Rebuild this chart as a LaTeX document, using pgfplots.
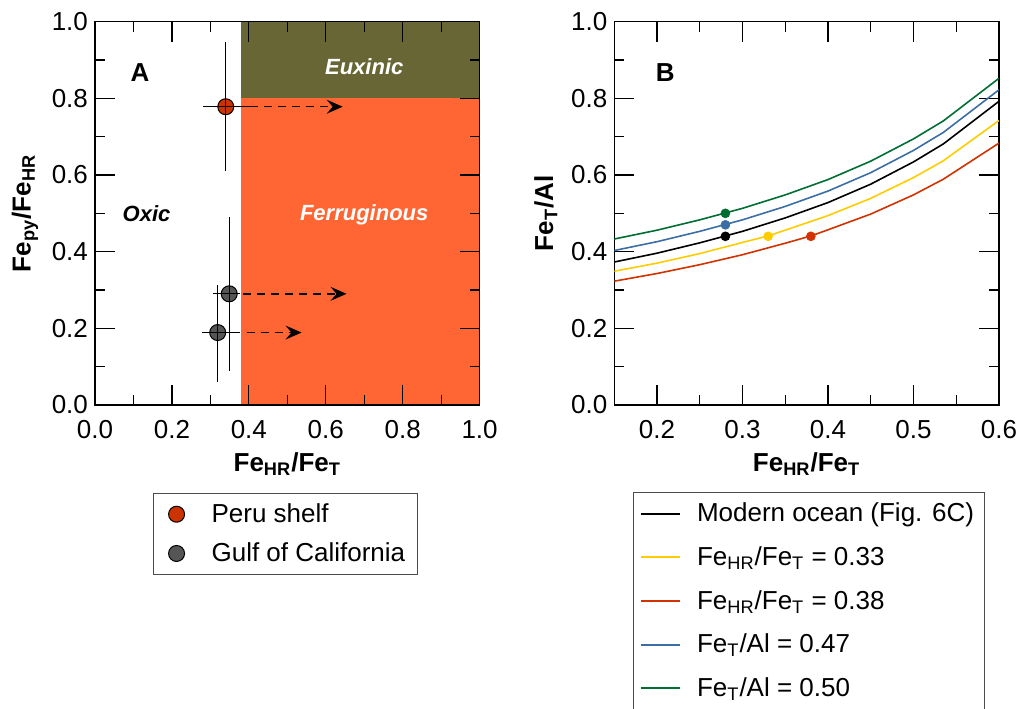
\documentclass[border=0pt]{standalone}
\usepackage{fontspec}
\setmainfont{Liberation Sans}
\usepackage{pgfplots}
\pgfplotsset{compat=1.18}
\usetikzlibrary{arrows.meta}

\definecolor{euxcol}{RGB}{103,102,52}
\definecolor{ferrcol}{RGB}{255,102,51}
\definecolor{perucol}{RGB}{204,51,0}
\definecolor{gulfcol}{RGB}{85,85,85}
\definecolor{cYellow}{RGB}{255,204,0}
\definecolor{cRed}{RGB}{210,50,0}
\definecolor{cBlue}{RGB}{59,110,165}
\definecolor{cGreen}{RGB}{0,110,50}

\pgfplotsset{
  panel/.style={
    scale only axis,
    width=192.3pt, height=191.7pt,
    axis line style={line width=0.6pt},
    tick align=inside, xtick pos=both, ytick pos=both,
    major tick length=10pt, minor tick length=5pt,
    minor tick num=1,
    every tick/.style={black, line width=0.6pt},
    tick label style={font=\fontsize{13}{15}\selectfont},
    /pgf/number format/assume math mode=true,
    xticklabel style={yshift=-4pt, /pgf/number format/.cd, fixed, fixed zerofill, precision=1},
    yticklabel style={/pgf/number format/.cd, fixed, fixed zerofill, precision=1},
    label style={font=\fontsize{13}{15}\selectfont\bfseries},
    legend cell align=left,
  },
  dotlegend/.style={legend image code/.code={%
    \draw[##1] plot coordinates {(7.5pt,0pt)};
    \path[draw=none, fill=none] (0pt,0pt) -- (23pt,0pt);}},
  linelegend/.style={legend image code/.code={%
    \draw[##1, line width=1pt] (0pt,0pt) -- (19.5pt,0pt);
    \path[draw=none, fill=none] (0pt,0pt) -- (26.2pt,0pt);}},
}

\begin{document}
\begin{tikzpicture}
\path[use as bounding box] (0,0) rectangle (510.5pt,-354pt);

% ---------- Panel A
\begin{axis}[panel,
  at={(47.5pt,-202.5pt)}, anchor=south west,
  xmin=0, xmax=1, ymin=0, ymax=1,
  xtick={0,0.2,...,1}, ytick={0,0.2,...,1},
  axis on top, clip marker paths=true,
  xlabel={Fe\textsubscript{HR}/Fe\textsubscript{T}},
  ylabel={Fe\textsubscript{py}/Fe\textsubscript{HR}},
  legend style={at={(0.151,-0.229)}, anchor=north west,
    draw=black!70, line width=0.5pt,
    font=\fontsize{13}{15}\selectfont,
    row sep=4.7pt, inner xsep=4pt, inner ysep=3pt},
]
% redox fields
\addplot[forget plot, draw=none, fill=ferrcol] coordinates {(0.38,0) (0.38,0.8) (1,0.8) (1,0)} -- cycle;
\addplot[forget plot, draw=none, fill=euxcol] coordinates {(0.38,0.8) (0.38,1) (1,1) (1,0.8)} -- cycle;

\addplot[only marks, mark=*, mark size=4pt,
  mark options={draw=black, fill=perucol, line width=0.5pt}, dotlegend]
  coordinates {(0.340,0.778)};
\addlegendentry{Peru shelf}
\addplot[only marks, mark=*, mark size=4pt,
  mark options={draw=black, fill=gulfcol, line width=0.5pt}, dotlegend]
  coordinates {(0.349,0.290) (0.319,0.189)};
\addlegendentry{Gulf of California\hspace{13pt}}

% error bars on top of the symbols
\addplot[forget plot, draw=none, mark=none,
  error bars/.cd, x dir=both, x explicit, y dir=both, y explicit,
  error mark=none, error bar style={draw=black, solid, line width=0.6pt}]
  coordinates {
    (0.340,0.778) += (0.063,0.168) -= (0.060,0.167)
    (0.349,0.290) += (0.028,0.200) -= (0.043,0.200)
    (0.319,0.189) += (0.058,0.124) -= (0.042,0.128)
  };

% dashed arrows
\addplot[forget plot, black, line width=0.7pt, dash pattern=on 4pt off 3pt,
  -{Stealth[length=8pt, width=7pt, inset=3pt]}]
  coordinates {(0.403,0.778) (0.644,0.778)};
\addplot[forget plot, black, line width=0.7pt, dash pattern=on 4pt off 3pt,
  -{Stealth[length=8pt, width=7pt, inset=3pt]}]
  coordinates {(0.386,0.290) (0.654,0.290)};
\addplot[forget plot, black, line width=0.7pt, dash pattern=on 4pt off 3pt,
  -{Stealth[length=8pt, width=7pt, inset=3pt]}]
  coordinates {(0.394,0.189) (0.537,0.189)};

\node[font=\fontsize{13}{15}\selectfont\bfseries] at (axis cs:0.117,0.867) {A};
\node[font=\fontsize{11}{13}\selectfont\bfseries\itshape] at (axis cs:0.134,0.50) {Oxic};
\node[font=\fontsize{11}{13}\selectfont\bfseries\itshape, white] at (axis cs:0.70,0.883) {Euxinic};
\node[font=\fontsize{11}{13}\selectfont\bfseries\itshape, white] at (axis cs:0.70,0.497) {Ferruginous};
\end{axis}

% ---------- Panel B
\begin{axis}[panel,
  at={(307.15pt,-202.5pt)}, anchor=south west,
  xmin=0.15, xmax=0.6, ymin=0, ymax=1,
  xtick={0.2,0.3,0.4,0.5,0.6}, ytick={0,0.2,...,1},
  xlabel={Fe\textsubscript{HR}/Fe\textsubscript{T}},
  ylabel={Fe\textsubscript{T}/Al},
  legend style={at={(0.049,-0.228)}, anchor=north west,
    draw=black!70, line width=0.5pt,
    font=\fontsize{13}{15}\selectfont,
    row sep=6.9pt, inner xsep=3pt, inner ysep=3pt},
]
\addplot[black, line width=0.8pt, linelegend] coordinates {
  (0.15,0.373) (0.20,0.396) (0.25,0.423) (0.28,0.441) (0.30,0.453) (0.35,0.488)
  (0.40,0.528) (0.45,0.576) (0.50,0.634) (0.535,0.681) (0.60,0.792)};
\addlegendentry{Modern ocean (Fig. 6C)}
\addplot[cYellow, line width=0.8pt, linelegend] coordinates {
  (0.15,0.349) (0.20,0.370) (0.25,0.395) (0.30,0.424) (0.33,0.441) (0.35,0.456)
  (0.40,0.494) (0.45,0.539) (0.50,0.593) (0.535,0.637) (0.60,0.742)};
\addlegendentry{Fe\textsubscript{HR}/Fe\textsubscript{T} = 0.33}
\addplot[cRed, line width=0.8pt, linelegend] coordinates {
  (0.15,0.323) (0.20,0.343) (0.25,0.366) (0.30,0.392) (0.35,0.422) (0.38,0.441)
  (0.40,0.457) (0.45,0.498) (0.50,0.548) (0.535,0.589) (0.60,0.683)};
\addlegendentry{Fe\textsubscript{HR}/Fe\textsubscript{T} = 0.38}
\addplot[cBlue, line width=0.8pt, linelegend] coordinates {
  (0.15,0.403) (0.20,0.426) (0.25,0.453) (0.28,0.471) (0.30,0.483) (0.35,0.518)
  (0.40,0.558) (0.45,0.606) (0.50,0.664) (0.535,0.711) (0.60,0.822)};
\addlegendentry{Fe\textsubscript{T}/Al = 0.47}
\addplot[cGreen, line width=0.8pt, linelegend] coordinates {
  (0.15,0.433) (0.20,0.456) (0.25,0.483) (0.28,0.501) (0.30,0.513) (0.35,0.548)
  (0.40,0.588) (0.45,0.636) (0.50,0.694) (0.535,0.741) (0.60,0.852)};
\addlegendentry{Fe\textsubscript{T}/Al = 0.50}

\addplot[forget plot, only marks, mark=*, mark size=2.2pt, black] coordinates {(0.28,0.44)};
\addplot[forget plot, only marks, mark=*, mark size=2.2pt, cBlue] coordinates {(0.28,0.47)};
\addplot[forget plot, only marks, mark=*, mark size=2.2pt, cGreen] coordinates {(0.28,0.50)};
\addplot[forget plot, only marks, mark=*, mark size=2.2pt, cYellow] coordinates {(0.33,0.44)};
\addplot[forget plot, only marks, mark=*, mark size=2.2pt, cRed] coordinates {(0.38,0.44)};

\node[font=\fontsize{13}{15}\selectfont\bfseries] at (axis cs:0.2095,0.867) {B};
\end{axis}
\end{tikzpicture}
\end{document}
